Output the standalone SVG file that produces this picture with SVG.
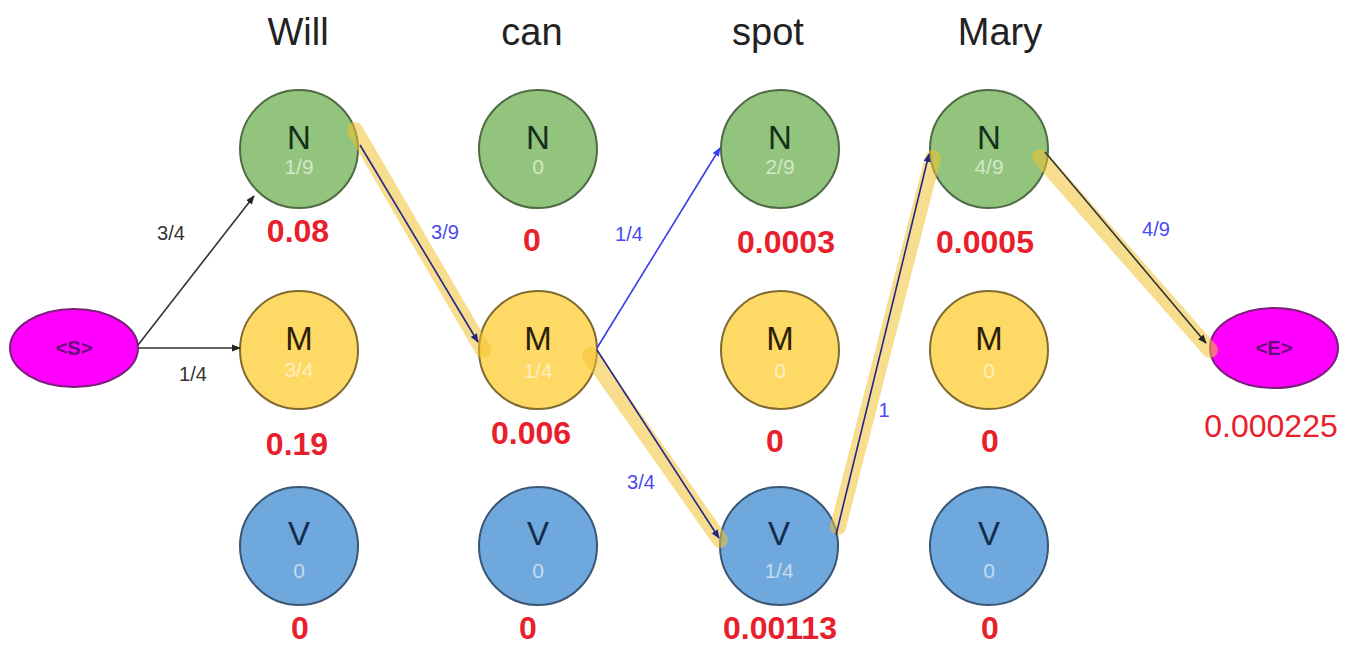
<svg xmlns="http://www.w3.org/2000/svg" width="1356" height="647" viewBox="0 0 1356 647">
<defs>
<marker id="ab" viewBox="0 0 10 10" refX="9" refY="5" markerWidth="9" markerHeight="9" markerUnits="userSpaceOnUse" orient="auto"><path d="M0,1 L10,5 L0,9 z" fill="#222"/></marker>
<marker id="ad" viewBox="0 0 10 10" refX="9" refY="5" markerWidth="9" markerHeight="9" markerUnits="userSpaceOnUse" orient="auto"><path d="M0,1 L10,5 L0,9 z" fill="#24248a"/></marker>
<marker id="abl" viewBox="0 0 10 10" refX="9" refY="5" markerWidth="9" markerHeight="9" markerUnits="userSpaceOnUse" orient="auto"><path d="M0,1 L10,5 L0,9 z" fill="#3a3af0"/></marker>
</defs>
<style>
text{font-family:"Liberation Sans",Arial,sans-serif;text-anchor:middle}
.title{font-size:38px;fill:#222}
.g{fill:#93c47d;stroke:#4e6b44;stroke-width:2}
.y{fill:#ffd966;stroke:#7f6a30;stroke-width:2}
.b{fill:#6fa8dc;stroke:#3a5673;stroke-width:2}
.m{fill:#ff00ff;stroke:#7a1f7a;stroke-width:2}
.L{font-size:33px}
.gL{fill:#14301a}.yL{fill:#2a2006}.bL{fill:#142c4c}
.sub{font-size:21px;fill:#ffffff;fill-opacity:0.6}
.val{font-size:32px;font-weight:bold;fill:#e8202c}
.valr{font-size:32px;fill:#e8202c}
.et{font-size:20px;font-weight:bold;fill:#6a0a7a}
.hl{stroke:#f1c232;stroke-opacity:0.55;stroke-width:16;stroke-linecap:round;fill:none}
.k{stroke:#333;stroke-width:1.6;fill:none}
.d{stroke:#24248a;stroke-width:1.6;fill:none}
.bl{stroke:#3a3af0;stroke-width:1.6;fill:none}
.kl{font-size:20px;fill:#333}
.bll{font-size:20px;fill:#4a4af0}
</style>
<rect width="1356" height="647" fill="#ffffff"/>
<g id="titles">
<text class="title" x="298" y="45">Will</text>
<text class="title" x="532" y="45">can</text>
<text class="title" x="768" y="45">spot</text>
<text class="title" x="1000" y="45">Mary</text>
</g>
<g id="S"><ellipse class="m" cx="74" cy="348" rx="64" ry="39"/><text class="et" x="74" y="355">&lt;S&gt;</text></g>
<g id="E"><ellipse class="m" cx="1274" cy="348" rx="64" ry="40"/><text class="et" x="1274" y="355">&lt;E&gt;</text><text class="valr" x="1271" y="437">0.000225</text></g>

<g id="N_will"><circle class="g" cx="299" cy="149" r="59"/><text class="L gL" x="299" y="149">N</text><text class="sub" x="299" y="174">1/9</text><text class="val" x="298" y="242">0.08</text></g>
<g id="M_will"><circle class="y" cx="299" cy="350" r="59"/><text class="L yL" x="299" y="350">M</text><text class="sub" x="299" y="377">3/4</text><text class="val" x="297" y="455">0.19</text></g>
<g id="V_will"><circle class="b" cx="299" cy="546" r="59"/><text class="L bL" x="299" y="545">V</text><text class="sub" x="299" y="578">0</text><text class="val" x="300" y="639">0</text></g>

<g id="N_can"><circle class="g" cx="538" cy="149" r="59"/><text class="L gL" x="538" y="149">N</text><text class="sub" x="538" y="174">0</text><text class="val" x="532" y="251">0</text></g>
<g id="M_can"><circle class="y" cx="538" cy="350" r="59"/><text class="L yL" x="538" y="350">M</text><text class="sub" x="538" y="378">1/4</text><text class="val" x="531" y="444">0.006</text></g>
<g id="V_can"><circle class="b" cx="538" cy="546" r="59"/><text class="L bL" x="538" y="545">V</text><text class="sub" x="538" y="578">0</text><text class="val" x="528" y="639">0</text></g>

<g id="N_spot"><circle class="g" cx="780" cy="149" r="59"/><text class="L gL" x="780" y="149">N</text><text class="sub" x="780" y="174">2/9</text><text class="val" x="786" y="253">0.0003</text></g>
<g id="M_spot"><circle class="y" cx="780" cy="350" r="59"/><text class="L yL" x="780" y="350">M</text><text class="sub" x="780" y="378">0</text><text class="val" x="775" y="452">0</text></g>
<g id="V_spot"><circle class="b" cx="779" cy="546" r="59"/><text class="L bL" x="779" y="545">V</text><text class="sub" x="779" y="578">1/4</text><text class="val" x="780" y="639">0.00113</text></g>

<g id="N_mary"><circle class="g" cx="989" cy="149" r="59"/><text class="L gL" x="989" y="149">N</text><text class="sub" x="989" y="174">4/9</text><text class="val" x="985" y="253">0.0005</text></g>
<g id="M_mary"><circle class="y" cx="989" cy="350" r="59"/><text class="L yL" x="989" y="350">M</text><text class="sub" x="989" y="378">0</text><text class="val" x="990" y="452">0</text></g>
<g id="V_mary"><circle class="b" cx="989" cy="546" r="59"/><text class="L bL" x="989" y="545">V</text><text class="sub" x="989" y="578">0</text><text class="val" x="990" y="639">0</text></g>

<g id="connectors">
<line class="hl" x1="355" y1="130" x2="483" y2="350"/>
<line class="hl" x1="590" y1="355" x2="720" y2="540"/>
<line class="hl" x1="838" y1="527" x2="933" y2="158"/>
<line class="hl" x1="1040" y1="157" x2="1210" y2="350"/>
<line class="k" x1="138" y1="345" x2="254" y2="196" marker-end="url(#ab)"/>
<line class="k" x1="138" y1="348" x2="240" y2="348" marker-end="url(#ab)"/>
<line class="d" x1="360" y1="145" x2="478" y2="342" marker-end="url(#ad)"/>
<line class="bl" x1="597" y1="348" x2="720" y2="148" marker-end="url(#abl)"/>
<line class="d" x1="597" y1="350" x2="719" y2="538" marker-end="url(#ad)"/>
<line class="d" x1="836" y1="535" x2="929" y2="154" marker-end="url(#ad)"/>
<line class="k" x1="1045" y1="152" x2="1206" y2="343" marker-end="url(#ab)"/>
<text class="kl" x="171" y="240">3/4</text>
<text class="kl" x="193" y="381">1/4</text>
<text class="bll" x="445" y="239">3/9</text>
<text class="bll" x="629" y="241">1/4</text>
<text class="bll" x="641" y="489">3/4</text>
<text class="bll" x="884" y="417">1</text>
<text class="bll" x="1156" y="236">4/9</text>
</g>
</svg>
